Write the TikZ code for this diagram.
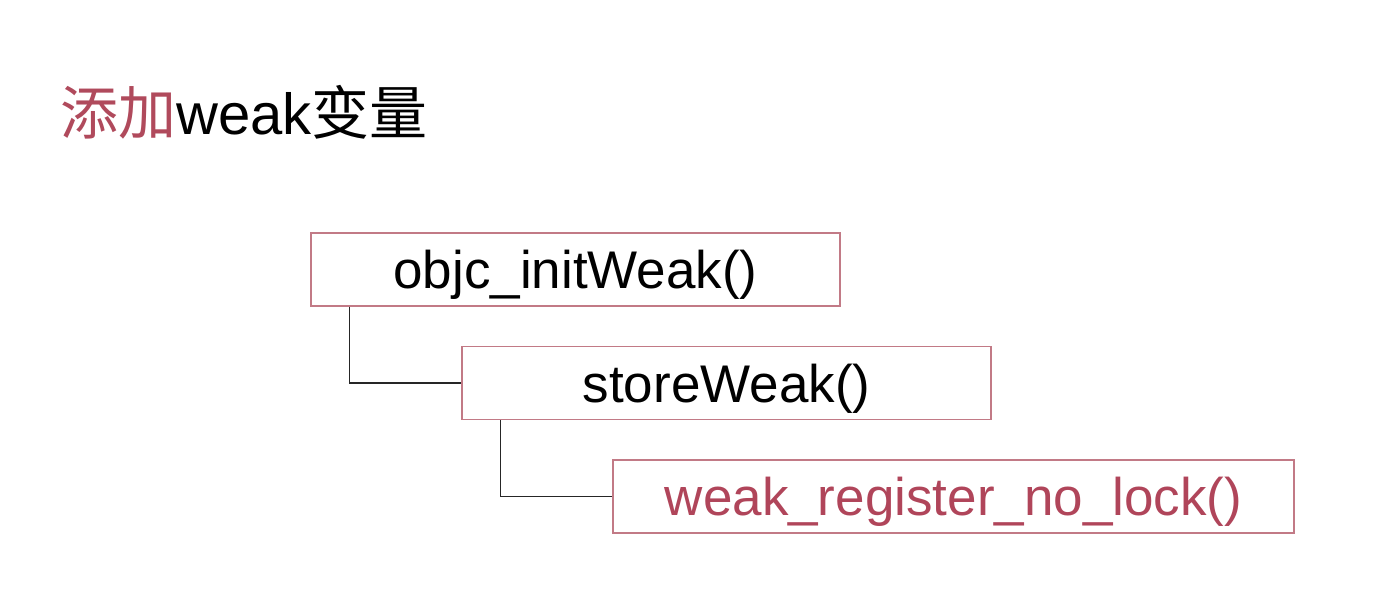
\documentclass[tikz,border=0pt]{standalone}
\usepackage{fontspec}
\setmainfont{Liberation Sans}
\newfontfamily\cjk{Noto Sans CJK SC}
\definecolor{titlered}{HTML}{B04A5C}
\definecolor{boxline}{HTML}{C27A86}
\definecolor{callred}{HTML}{B0455A}
\tikzset{
  callbox/.style={draw=boxline, line width=1.2pt, minimum width=529pt, minimum height=73pt,
    inner sep=0pt, text height=38pt, text depth=0pt, font=\fontsize{53}{60}\selectfont},
  link/.style={line width=1.2pt, black!85}
}

\begin{document}
\begin{tikzpicture}[x=1pt, y=-1pt]
  \useasboundingbox (0,0) rectangle (1376,606);
  \node[anchor=west, inner sep=0pt, font=\fontsize{58}{64}\selectfont] (title) at (60,112)
    {\textcolor{titlered}{\cjk 添加}weak{\cjk 变量}};
  \node[callbox] (init) at (575.5,269.5) {objc\_initWeak()};
  \node[callbox] (store) at (726.5,383) {storeWeak()};
  \node[callbox, minimum width=681pt, text=callred] (reg) at (953.5,496.5) {weak\_register\_no\_lock()};
  \draw[link] ([xshift=39pt]init.south west) |- (store.west);
  \draw[link] ([xshift=39pt]store.south west) |- (reg.west);
\end{tikzpicture}
\end{document}
